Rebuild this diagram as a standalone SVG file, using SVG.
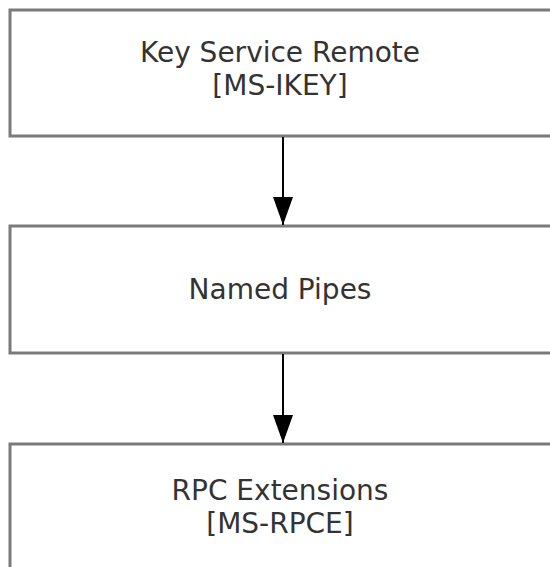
<svg xmlns="http://www.w3.org/2000/svg" width="550" height="567" viewBox="0 0 550 567">
<defs>
<marker id="ah" viewBox="0 0 28 20" refX="28" refY="10" markerWidth="28" markerHeight="20" markerUnits="userSpaceOnUse" orient="auto">
<path d="M0,0 L28,10 L0,20 Z" fill="#000"/>
</marker>
<style>
.box{fill:#fff;stroke:#7a7a7a;stroke-width:3}
.lbl{font-family:"DejaVu Sans",Verdana,sans-serif;font-size:28px;fill:#333;text-anchor:middle}
.conn{stroke:#000;stroke-width:2;fill:none}
</style>
</defs>
<rect width="550" height="567" fill="#fff"/>
<g id="n1">
<rect class="box" x="10" y="10" width="546" height="126"/>
<text class="lbl" x="280" y="62">Key Service Remote</text>
<text class="lbl" x="280" y="95">[MS-IKEY]</text>
</g>
<g id="n2">
<rect class="box" x="10" y="226" width="546" height="127"/>
<text class="lbl" x="280" y="299">Named Pipes</text>
</g>
<g id="n3">
<rect class="box" x="10" y="444" width="546" height="130"/>
<text class="lbl" x="280" y="500">RPC Extensions</text>
<text class="lbl" x="280" y="533">[MS-RPCE]</text>
</g>
<g id="connectors">
<line class="conn" x1="283" y1="137" x2="283" y2="225" marker-end="url(#ah)"/>
<line class="conn" x1="283" y1="354" x2="283" y2="443" marker-end="url(#ah)"/>
</g>
</svg>
